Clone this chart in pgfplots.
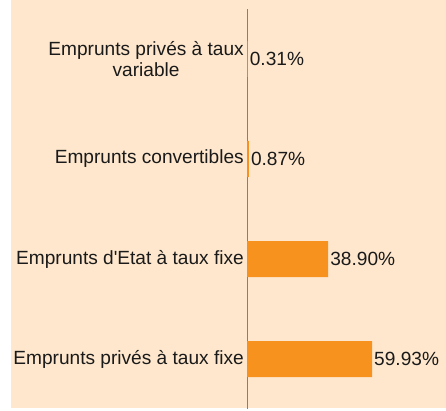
\documentclass[border=0pt]{standalone}
\usepackage{fontspec}
\setmainfont{Liberation Sans}
\usepackage{pgfplots}
\pgfplotsset{compat=1.18}
\definecolor{peach}{RGB}{254,231,205}
\definecolor{barorange}{RGB}{247,146,30}
\definecolor{axgray}{RGB}{128,128,128}
\definecolor{txt}{RGB}{26,26,26}
\begin{document}
\begin{tikzpicture}[x=1pt,y=1pt]
\fill[white] (0,0) rectangle (446,410);
\fill[peach] (11,2) rectangle (446,410);
\begin{axis}[
  at={(247pt,1pt)}, anchor=south west,
  scale only axis, width=199pt, height=400pt,
  xmin=0, xmax=95.4, ymin=-0.5, ymax=3.5,
  axis lines*=left,
  x axis line style={draw=none},
  y axis line style={draw=axgray, line width=1pt, -},
  xtick=\empty,
  ytick={0,1,2,3},
  yticklabels={{Emprunts privés à taux fixe},{Emprunts d\textquotesingle Etat à taux fixe},{Emprunts convertibles},{Emprunts privés à taux\\variable}},
  major tick length=0pt,
  yticklabel style={font=\fontsize{19.1}{21}\selectfont, text=txt, align=center, inner xsep=3pt},
  xbar, bar width=36pt,
  clip=false,
  /pgf/number format/assume math mode=true,
  nodes near coords={\pgfmathprintnumber[fixed,fixed zerofill,precision=2]{\pgfplotspointmeta}\%},
  nodes near coords style={font=\fontsize{19.1}{21}\selectfont, text=txt, anchor=west, inner xsep=2pt},
]
\addplot[fill=barorange, draw=none] coordinates {(59.93,0) (38.90,1) (0.87,2) (0.31,3)};
\end{axis}
\end{tikzpicture}
\end{document}
